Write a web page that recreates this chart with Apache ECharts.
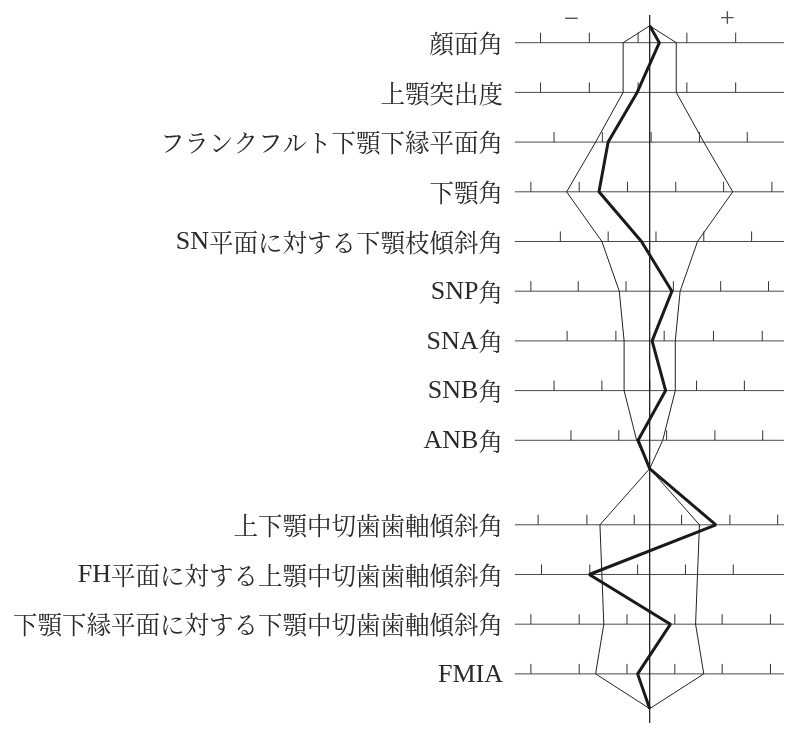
<!DOCTYPE html>
<html>
<head>
<meta charset="utf-8">
<script src="https://cdn.jsdelivr.net/npm/echarts@6/dist/echarts.min.js"></script>
<style>
html,body{margin:0;padding:0;background:#fff;}
#chart{width:797px;height:737px;}
</style>
</head>
<body>
<div id="chart"></div>
<script>
// Row labels (top to bottom)
const labels = ['顔面角','上顎突出度','フランクフルト下顎下縁平面角','下顎角','SN平面に対する下顎枝傾斜角','SNP角','SNA角','SNB角','ANB角','上下顎中切歯歯軸傾斜角','FH平面に対する上顎中切歯歯軸傾斜角','下顎下縁平面に対する下顎中切歯歯軸傾斜角','FMIA'];
// Vertical position of each row (row units)
const rowPos = [0,1,2,3,4,5,6,7,8,9.7,10.7,11.7,12.7];
// Apex points on the mean line: top, between the two groups, bottom
const apexTop = -0.34, apexMid = 8.57, apexBottom = 13.4;
// Standard deviation half-width for each row (in scale units)
const sdHalf = [0.55,0.55,1.12,1.72,0.99,0.63,0.53,0.53,0.27,1.03,0.99,0.95,1.12];
// Patient values (deviation from mean, scale units)
const patient = [0.20,-0.26,-0.86,-1.05,-0.17,0.46,0.05,0.33,-0.24,1.37,-1.25,0.43,-0.25];
// Scale tick positions per row
const rowTicks = [
  [-2.26,-1.25,-0.24,0.77,1.78],
  [-2.26,-1.25,-0.24,0.77,1.78],
  [-1.98,-0.98,0.03,1.03,2.02],
  [-2.46,-1.46,-0.46,0.54,1.53,2.53],
  [-1.85,-0.86,0.13,1.12,2.11],
  [-2.46,-1.48,-0.49,0.49,1.47,2.46],
  [-1.71,-0.70,0.30,1.32,2.33],
  [-1.98,-0.99,0.0,0.97,1.96],
  [-1.63,-0.64,0.35,1.35,2.34],
  [-2.31,-1.30,-0.32,0.66,1.66,2.65],
  [-2.24,-1.24,-0.25,0.74,1.73],
  [-2.46,-1.46,-0.47,0.52,1.50,2.50],
  [-2.46,-1.46,-0.47,0.52,1.50,2.50]
];
// Extent of each row's scale line
const lineMin = -2.79, lineMax = 2.78;
// Extent of mean (center) line
const centerTop = -0.557, centerBottom = 13.69;
// Sign markers
const signs = [['−', -1.62, -0.457], ['+', 1.61, -0.457]];

const LATIN_FONT = "'Liberation Serif','DejaVu Serif',serif";
const CJK_FONT = "'Noto Serif CJK JP','Noto Sans CJK JP',sans-serif";
const nUpper = 9;

// split label into Latin / CJK runs for rich text
function toRich(s) {
  let out = '';
  const re = /([A-Za-z]+)|([^A-Za-z]+)/g;
  let m;
  while ((m = re.exec(s)) !== null) {
    if (m[1]) out += '{l|' + m[1] + '}';
    else out += '{c|' + m[2] + '}';
  }
  return out;
}

// build SD polygon
const sdPoly = [[0, apexTop]];
for (let i = 0; i < nUpper; i++) sdPoly.push([sdHalf[i], rowPos[i]]);
sdPoly.push([0, apexMid]);
for (let i = nUpper; i < rowPos.length; i++) sdPoly.push([sdHalf[i], rowPos[i]]);
sdPoly.push([0, apexBottom]);
for (let i = rowPos.length - 1; i >= nUpper; i--) sdPoly.push([-sdHalf[i], rowPos[i]]);
sdPoly.push([0, apexMid]);
for (let i = nUpper - 1; i >= 0; i--) sdPoly.push([-sdHalf[i], rowPos[i]]);
sdPoly.push([0, apexTop]);

// patient polyline
const patLine = [[0, apexTop]];
for (let i = 0; i < nUpper; i++) patLine.push([patient[i], rowPos[i]]);
patLine.push([0, apexMid]);
for (let i = nUpper; i < rowPos.length; i++) patLine.push([patient[i], rowPos[i]]);
patLine.push([0, apexBottom]);

const chart = echarts.init(document.getElementById('chart'), null, {renderer: 'canvas'});
chart.setOption({
  animation: false,
  backgroundColor: '#fff',
  grid: {left: 0, right: 0, top: 0, bottom: 0, containLabel: false},
  xAxis: {type: 'value', min: -13.451, max: 3.0497, show: false},
  yAxis: {type: 'value', min: -0.8592, max: 13.970, inverse: true, show: false},
  series: [
    {
      type: 'custom',
      silent: true,
      z: 1,
      data: rowPos.map((p, i) => [lineMin, p, lineMax, i]),
      renderItem: function (params, api) {
        const idx = api.value(3);
        const a = api.coord([api.value(0), api.value(1)]);
        const b = api.coord([api.value(2), api.value(1)]);
        const children = [{
          type: 'line',
          shape: {x1: a[0], y1: a[1], x2: b[0], y2: b[1]},
          style: {stroke: '#4a4a4a', lineWidth: 1}
        }];
        rowTicks[idx].forEach(t => {
          const c = api.coord([t, api.value(1)]);
          children.push({
            type: 'line',
            shape: {x1: c[0], y1: c[1], x2: c[0], y2: c[1] - 10},
            style: {stroke: '#333', lineWidth: 1}
          });
        });
        children.push({
          type: 'text',
          style: {
            text: toRich(labels[idx]), x: a[0] - 12, y: a[1] + 1,
            align: 'right', verticalAlign: 'middle',
            fill: '#2a2a2a',
            rich: {
              l: {fontSize: 26, fontFamily: LATIN_FONT, fill: '#2a2a2a'},
              c: {fontSize: 24.5, fontFamily: CJK_FONT, fill: '#2a2a2a'}
            }
          }
        });
        return {type: 'group', children: children};
      }
    },
    {
      type: 'line',
      silent: true,
      z: 3,
      symbol: 'none',
      data: sdPoly,
      lineStyle: {color: '#222', width: 1}
    },
    {
      type: 'line',
      silent: true,
      z: 2,
      symbol: 'none',
      data: [[0, centerTop], [0, centerBottom]],
      lineStyle: {color: '#111', width: 1.2}
    },
    {
      type: 'line',
      silent: true,
      z: 4,
      symbol: 'none',
      data: patLine,
      lineStyle: {color: '#1a1a1a', width: 3}
    },
    {
      type: 'scatter',
      silent: true,
      symbolSize: 0,
      data: signs.map(s => ({value: [s[1], s[2]], name: s[0]})),
      label: {
        show: true, position: 'inside',
        formatter: p => p.name,
        fontSize: 27, fontFamily: LATIN_FONT, color: '#222'
      }
    }
  ]
});
</script>
</body>
</html>
